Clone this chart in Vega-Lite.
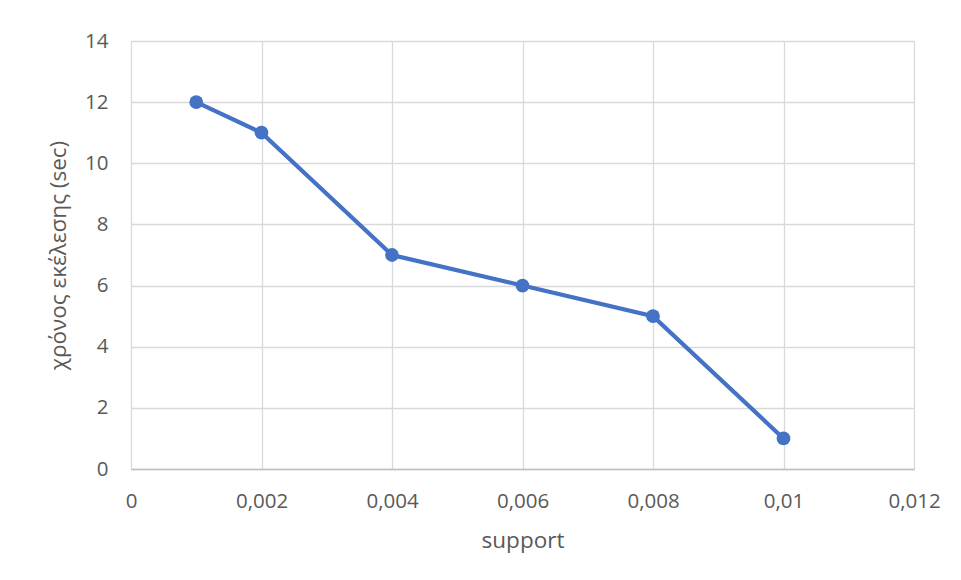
{
  "$schema": "https://vega.github.io/schema/vega-lite/v6.json",
  "width": 783,
  "height": 428,
  "autosize": {"type": "none"},
  "padding": {"left": 131, "top": 41, "right": 47, "bottom": 111},
  "background": "white",
  "config": {
    "view": {"stroke": null},
    "font": "Open Sans",
    "axis": {
      "labelFont": "Open Sans",
      "titleFont": "Open Sans",
      "labelColor": "#595959",
      "titleColor": "#595959",
      "labelFontSize": 20.5,
      "titleFontSize": 22.5,
      "titleFontWeight": "normal",
      "gridColor": "#d9d9d9",
      "gridWidth": 1.3,
      "ticks": false
    }
  },
  "data": {
    "values": [
      {"support": 0.001, "time": 12},
      {"support": 0.002, "time": 11},
      {"support": 0.004, "time": 7},
      {"support": 0.006, "time": 6},
      {"support": 0.008, "time": 5},
      {"support": 0.01, "time": 1}
    ]
  },
  "encoding": {
    "x": {
      "field": "support",
      "type": "quantitative",
      "title": "support",
      "scale": {"domain": [0, 0.012], "nice": false, "zero": true},
      "axis": {
        "values": [0, 0.002, 0.004, 0.006, 0.008, 0.01, 0.012],
        "labelExpr": "datum.value == 0 ? '0' : replace(format(datum.value, '~g'), '.', ',')",
        "labelFlush": false,
        "labelOverlap": false,
        "domainColor": "#bfbfbf",
        "domainWidth": 1.5,
        "labelPadding": 22,
        "titlePadding": 18
      }
    },
    "y": {
      "field": "time",
      "type": "quantitative",
      "title": "χρόνος εκέλεσης (sec)",
      "scale": {"domain": [0, 14], "nice": false},
      "axis": {
        "values": [0, 2, 4, 6, 8, 10, 12, 14],
        "domain": false,
        "labelFlush": false,
        "labelPadding": 23,
        "titlePadding": 14
      }
    }
  },
  "layer": [
    {"mark": {"type": "line", "color": "#4472C4", "strokeWidth": 4.2}},
    {"mark": {"type": "point", "filled": true, "color": "#4472C4", "opacity": 1, "size": 190}}
  ]
}
